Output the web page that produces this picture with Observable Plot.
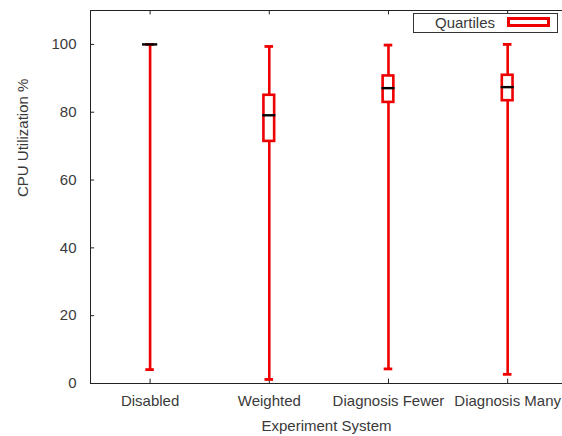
<!DOCTYPE html>
<html>
<head>
<meta charset="utf-8">
<script src="https://cdn.jsdelivr.net/npm/d3@7"></script>
<script src="https://cdn.jsdelivr.net/npm/@observablehq/plot@0.6"></script>
<style>
  html, body { margin: 0; padding: 0; background: #fff; }
  #wrap { position: relative; width: 562px; height: 436px; font-family: "Liberation Sans", Arial, sans-serif; }
  #legend { position: absolute; left: 413px; top: 13px; width: 143px; height: 18px; border: 1px solid #333; background: #fff; }
  #legend .lab { position: absolute; left: 21px; top: 0px; font-size: 15px; color: #3a3a3a; }
  #legend .sw { position: absolute; left: 93px; top: 3px; width: 37px; height: 4px; border: 3px solid #ee0000; background: #fff; }
</style>
</head>
<body>
<div id="wrap"><div id="legend"><span class="lab">Quartiles</span><span class="sw"></span></div></div>
<script>
const categories = ["Disabled", "Weighted", "Diagnosis Fewer", "Diagnosis Many"];
const whiskerLow  = [4.1, 1.2, 4.3, 2.7];
const quartile1   = [100, 71.4, 82.9, 83.4];
const medians     = [100, 79.1, 87.1, 87.4];
const quartile3   = [100, 85.0, 90.7, 90.9];
const whiskerHigh = [100, 99.4, 99.8, 100];
const yTicks = [0, 20, 40, 60, 80, 100];

const RED = "#ee0000";
const INK = "#3a3a3a";
const xDomain = [0.5, 4.46];
const yDomain = [0, 110];

const data = categories.map((c, i) => ({
  pos: i + 1, name: c,
  lo: whiskerLow[i], q1: quartile1[i], med: medians[i], q3: quartile3[i], hi: whiskerHigh[i],
  medHalf: quartile3[i] > quartile1[i] ? 0.055 : 0.064
}));
const positions = data.map(d => d.pos);

const capHalf = 0.036, boxHalf = 0.045;

const chart = Plot.plot({
  width: 562,
  height: 436,
  marginLeft: 90,
  marginRight: 0,
  marginTop: 10,
  marginBottom: 53,
  style: { fontFamily: "Liberation Sans, Arial, sans-serif", fontSize: "15px", color: INK, background: "#fff" },
  x: { type: "linear", domain: xDomain },
  y: { domain: yDomain },
  marks: [
    // border (left, top, bottom)
    Plot.ruleX([xDomain[0]], { stroke: "#222", strokeWidth: 1 }),
    Plot.ruleY([yDomain[1]], { stroke: "#222", strokeWidth: 1 }),
    Plot.ruleY([yDomain[0]], { stroke: "#222", strokeWidth: 1 }),
    // inward ticks
    Plot.ruleY(yTicks, { y: d => d, x1: xDomain[0], x2: xDomain[0] + 0.035, stroke: "#222" }),
    Plot.ruleX(positions, { x: d => d, y1: yDomain[0], y2: yDomain[0] + 1.3, stroke: "#222" }),
    Plot.ruleX(positions, { x: d => d, y1: yDomain[1], y2: yDomain[1] - 1.3, stroke: "#222" }),
    // whiskers
    Plot.ruleX(data, { x: "pos", y1: "lo", y2: "hi", stroke: RED, strokeWidth: 2.6 }),
    Plot.ruleY(data, { y: "lo", x1: d => d.pos - capHalf, x2: d => d.pos + capHalf, stroke: RED, strokeWidth: 2.8 }),
    Plot.ruleY(data, { y: "hi", x1: d => d.pos - capHalf, x2: d => d.pos + capHalf, stroke: RED, strokeWidth: 2.8 }),
    // boxes
    Plot.rect(data.filter(d => d.q3 > d.q1), { x1: d => d.pos - boxHalf, x2: d => d.pos + boxHalf, y1: "q1", y2: "q3", fill: "#fff", stroke: RED, strokeWidth: 2.6 }),
    // medians
    Plot.ruleY(data, { y: "med", x1: d => d.pos - d.medHalf, x2: d => d.pos + d.medHalf, stroke: "#000", strokeWidth: 2.4 }),
    // axes
    Plot.axisY({ ticks: yTicks, tickSize: 0, tickPadding: 14, label: null, fontSize: 15, fill: INK }),
    Plot.axisX({ ticks: positions, tickFormat: d => categories[d - 1], tickSize: 0, tickPadding: 12, label: null, fontSize: 15, fill: INK }),
    // axis titles
    Plot.text(["CPU Utilization %"], { frameAnchor: "left", rotate: -90, dx: -67, fontSize: 15, fill: INK }),
    Plot.text(["Experiment System"], { frameAnchor: "bottom", dy: 47, fontSize: 15, fill: INK })
  ]
});
document.getElementById("wrap").prepend(chart);
</script>
</body>
</html>
